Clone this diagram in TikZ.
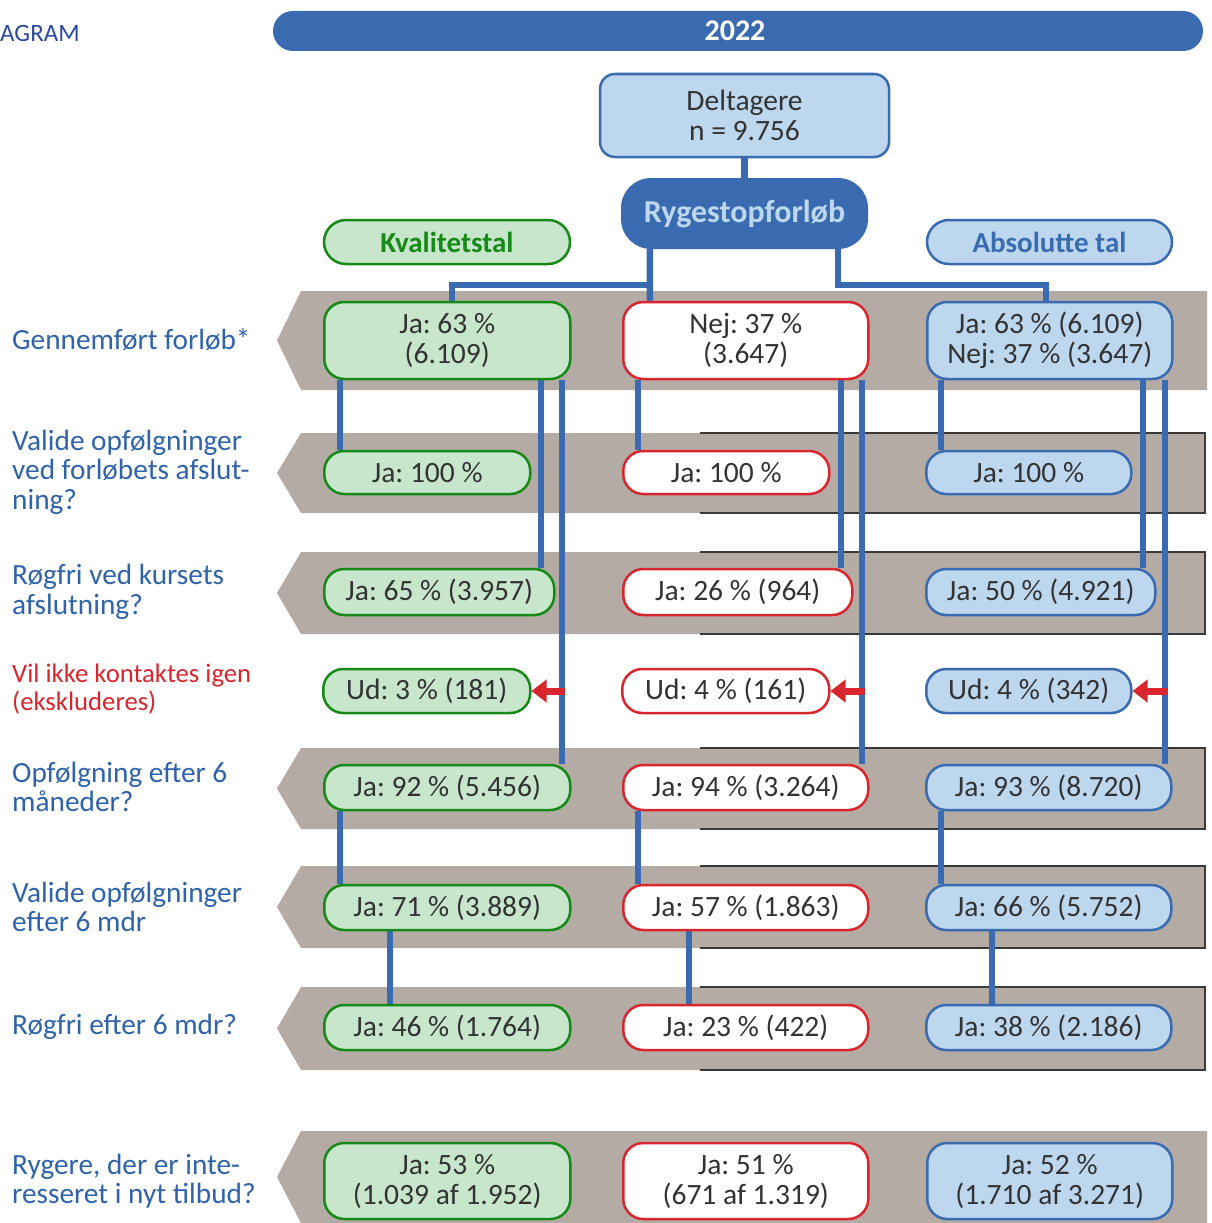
\documentclass[tikz,border=0pt]{standalone}
\usepackage{fontspec}
\setmainfont{Carlito}
\usetikzlibrary{arrows.meta,calc}
\definecolor{mblue}{HTML}{3A6BB0}
\definecolor{lblue}{HTML}{BDD7EE}
\definecolor{gfill}{HTML}{C7E6CC}
\definecolor{ggreen}{HTML}{168A16}
\definecolor{rred}{HTML}{D9262E}
\definecolor{bandgray}{HTML}{B4ABA5}
\definecolor{dtext}{HTML}{333333}
\definecolor{labblue}{HTML}{2F63AA}
\definecolor{agblue}{HTML}{2A4A9E}
\definecolor{frame}{HTML}{3A3A3A}
\pgfdeclarelayer{back}
\pgfdeclarelayer{mid}
\pgfsetlayers{back,mid,main}
\frenchspacing
\newcommand\txt{\fontsize{29.5}{30}\selectfont}
\newcommand\drawband[3]{%
  \fill[bandgray] (301,#1) -- (#3,#1) -- (#3,#2) -- (301,#2) -- (277,{(#1+#2)/2}) -- cycle;}
\newcommand\drawframe[2]{%
  \draw[frame, line width=1.6pt] (700,#1) -- (1205,#1) -- (1205,#2) -- (700,#2);}
\begin{document}
\begin{tikzpicture}[x=1pt,y=-1pt,
  box/.style={line width=2.5pt, rounded corners=20pt, inner sep=0pt, text=dtext,
    align=center, anchor=west, font=\txt},
  gbox/.style={box, fill=gfill, draw=ggreen},
  rbox/.style={box, fill=white, draw=rred},
  bbox/.style={box, fill=lblue, draw=mblue},
  lab/.style={inner sep=0pt, anchor=west, align=left, text=labblue, font=\fontsize{29.3}{29.5}\selectfont},
  conn/.style={draw=mblue, line width=6.5pt},
  redarr/.style={draw=rred, line width=7pt, -{Triangle[length=15pt,width=22pt]}}]
\useasboundingbox (0,0) rectangle (1211,1223);

% bands
\begin{pgfonlayer}{back}
\fill[white] (0,0) rectangle (1211,1223);
\drawband{291}{390}{1207}
\drawband{433}{513}{1205}\drawframe{433}{513}
\drawband{552}{634}{1205}\drawframe{552}{634}
\drawband{748}{829}{1205}\drawframe{748}{829}
\drawband{866}{948}{1205}\drawframe{866}{948}
\drawband{987}{1070}{1205}\drawframe{987}{1070}
\drawband{1131}{1223}{1207}
\end{pgfonlayer}

% header
\node[inner sep=0pt, anchor=west, text=agblue, font=\fontsize{25}{26}\selectfont] (ag) at (0,33) {AGRAM};
\node[fill=mblue, rounded corners=20pt, minimum width=930pt, minimum height=40pt, inner sep=0pt] (title) at (738,31) {};
\node[text=white, font=\fontsize{30}{30}\selectfont\bfseries, inner sep=0pt] (yr) at (735,31) {2022};

\node[fill=lblue, draw=mblue, line width=2.5pt, rounded corners=15pt, minimum width=289pt, minimum height=83pt,
  inner sep=0pt, align=center, text=dtext, font=\txt] (delt) at (744.5,115.5) {Deltagere\\n = 9.756};
\node[fill=mblue, rounded corners=30pt, minimum width=247pt, minimum height=71pt, inner sep=0pt,
  text=lblue, font=\fontsize{32}{32}\selectfont\bfseries] (ryg) at (744.5,213.5) {Rygestopforløb};
\node[fill=gfill, draw=ggreen, line width=2.5pt, rounded corners=22pt, minimum width=246pt, minimum height=44pt,
  inner sep=0pt, text=ggreen, font=\fontsize{29}{30}\selectfont\bfseries] (kval) at (447,242) {Kvalitetstal};
\node[fill=lblue, draw=mblue, line width=2.5pt, rounded corners=22pt, minimum width=245pt, minimum height=44pt,
  inner sep=0pt, text=mblue, font=\fontsize{29}{30}\selectfont\bfseries] (abs) at (1049.5,242) {Absolutte tal};

% labels
\node[lab] (l1) at (12,340) {Gennemført forløb*};
\node[lab] (l2) at (12,472) {Valide opfølgninger\\ved forløbets afslut-\\ning?};
\node[lab] (l3) at (12,592) {Røgfri ved kursets\\afslutning?};
\node[lab, text=rred, font=\fontsize{26.7}{28.5}\selectfont] (l4) at (12,689) {Vil ikke kontaktes igen\\(ekskluderes)};
\node[lab] (l5) at (12,787) {Opfølgning efter 6\\måneder?};
\node[lab] (l6) at (12,907) {Valide opfølgninger\\efter 6 mdr};
\node[lab] (l7) at (12,1027) {Røgfri efter 6 mdr?};
\node[lab] (l8) at (12,1181) {Rygere, der er inte-\\resseret i nyt tilbud?};

% row 1
\node[gbox, minimum width=246pt, minimum height=77pt] (g1) at (323,340.5) {Ja: 63 \%\\(6.109)};
\node[rbox, minimum width=245pt, minimum height=77pt] (r1) at (622,340.5) {Nej: 37 \%\\(3.647)};
\node[bbox, minimum width=245pt, minimum height=77pt] (b1) at (926,340.5) {Ja: 63 \% (6.109)\\Nej: 37 \% (3.647)};
% row 2
\node[gbox, minimum width=206pt, minimum height=43pt] (g2) at (323,472.5) {Ja: 100 \%};
\node[rbox, minimum width=206pt, minimum height=43pt] (r2) at (622,472.5) {Ja: 100 \%};
\node[bbox, minimum width=205pt, minimum height=43pt] (b2) at (925,472.5) {Ja: 100 \%};
% row 3
\node[gbox, minimum width=230pt, minimum height=46pt] (g3) at (323,592) {Ja: 65 \% (3.957)};
\node[rbox, minimum width=229pt, minimum height=46pt] (r3) at (622,592) {Ja: 26 \% (964)};
\node[bbox, minimum width=229pt, minimum height=46pt] (b3) at (925,592) {Ja: 50 \% (4.921)};
% row 4
\node[gbox, minimum width=207pt, minimum height=44pt] (g4) at (322,691) {Ud: 3 \% (181)};
\node[rbox, minimum width=207pt, minimum height=44pt] (r4) at (621,691) {Ud: 4 \% (161)};
\node[bbox, minimum width=205pt, minimum height=44pt] (b4) at (925,691) {Ud: 4 \% (342)};
% row 5
\node[gbox, minimum width=246pt, minimum height=45pt] (g5) at (323,787.5) {Ja: 92 \% (5.456)};
\node[rbox, minimum width=245pt, minimum height=45pt] (r5) at (622,787.5) {Ja: 94 \% (3.264)};
\node[bbox, minimum width=245pt, minimum height=45pt] (b5) at (925,787.5) {Ja: 93 \% (8.720)};
% row 6
\node[gbox, minimum width=246pt, minimum height=45pt] (g6) at (323,907.5) {Ja: 71 \% (3.889)};
\node[rbox, minimum width=245pt, minimum height=45pt] (r6) at (622,907.5) {Ja: 57 \% (1.863)};
\node[bbox, minimum width=245pt, minimum height=45pt] (b6) at (925,907.5) {Ja: 66 \% (5.752)};
% row 7
\node[gbox, minimum width=246pt, minimum height=45pt] (g7) at (323,1027.5) {Ja: 46 \% (1.764)};
\node[rbox, minimum width=245pt, minimum height=45pt] (r7) at (622,1027.5) {Ja: 23 \% (422)};
\node[bbox, minimum width=245pt, minimum height=45pt] (b7) at (925,1027.5) {Ja: 38 \% (2.186)};
% row 8
\node[gbox, minimum width=246pt, minimum height=76pt] (g8) at (323,1181) {Ja: 53 \%\\(1.039 af 1.952)};
\node[rbox, minimum width=245pt, minimum height=76pt] (r8) at (622,1181) {Ja: 51 \%\\(671 af 1.319)};
\node[bbox, minimum width=245pt, minimum height=76pt] (b8) at (926,1181) {Ja: 52 \%\\(1.710 af 3.271)};

% connectors
\begin{pgfonlayer}{mid}
\draw[conn] (delt.south) -- (ryg.north);
\draw[conn] ([xshift=29pt]ryg.south west) -- ([xshift=28pt]r1.north west);
\draw[conn] ([xshift=29pt]ryg.south west) -- ++(0,36) -| ([xshift=129pt]g1.north west);
\draw[conn] ([xshift=-30pt]ryg.south east) -- ++(0,36) -| ([xshift=120pt]b1.north west);
% green column
\draw[conn] ([xshift=17pt]g1.south west) -- ([xshift=17pt]g2.north west);
\draw[conn] ([xshift=218pt]g1.south west) -- ([xshift=218pt]g3.north west);
\draw[conn] ([xshift=239pt]g1.south west) -- ([xshift=239pt]g5.north west);
\draw[conn] ([xshift=17pt]g5.south west) -- ([xshift=17pt]g6.north west);
\draw[conn] ([xshift=67pt]g6.south west) -- ([xshift=67pt]g7.north west);
% red column
\draw[conn] ([xshift=16pt]r1.south west) -- ([xshift=16pt]r2.north west);
\draw[conn] ([xshift=219pt]r1.south west) -- ([xshift=219pt]r3.north west);
\draw[conn] ([xshift=240pt]r1.south west) -- ([xshift=240pt]r5.north west);
\draw[conn] ([xshift=16pt]r5.south west) -- ([xshift=16pt]r6.north west);
\draw[conn] ([xshift=67pt]r6.south west) -- ([xshift=67pt]r7.north west);
% blue column
\draw[conn] ([xshift=15pt]b1.south west) -- ([xshift=16pt]b2.north west);
\draw[conn] ([xshift=217pt]b1.south west) -- ([xshift=218pt]b3.north west);
\draw[conn] ([xshift=239pt]b1.south west) -- ([xshift=240pt]b5.north west);
\draw[conn] ([xshift=16pt]b5.south west) -- ([xshift=16pt]b6.north west);
\draw[conn] ([xshift=67pt]b6.south west) -- ([xshift=67pt]b7.north west);
\end{pgfonlayer}
% exclusion arrows
\draw[redarr] ([xshift=33pt]g4.east) -- (g4.east);
\draw[redarr] ([xshift=34pt]r4.east) -- (r4.east);
\draw[redarr] ([xshift=35pt]b4.east) -- (b4.east);
\end{tikzpicture}
\end{document}
